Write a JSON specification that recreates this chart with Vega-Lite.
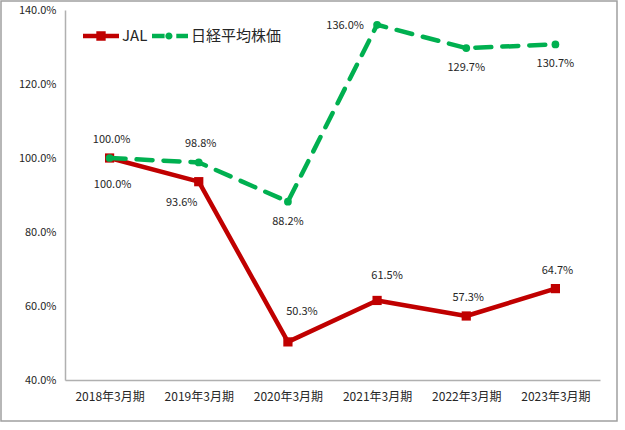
{
  "$schema": "https://vega.github.io/schema/vega-lite/v6.json",
  "width": 616,
  "height": 420,
  "autosize": "none",
  "padding": {"left": 1, "top": 1, "right": 8, "bottom": 9},
  "background": "white",
  "config": {
    "font": "Noto Sans CJK JP",
    "view": {"stroke": "#a0a0a0", "strokeWidth": 1.5}
  },
  "data": {
    "values": [
      {"period": "2018年3月期", "series": "JAL", "value": 100.0},
      {"period": "2019年3月期", "series": "JAL", "value": 93.6},
      {"period": "2020年3月期", "series": "JAL", "value": 50.3},
      {"period": "2021年3月期", "series": "JAL", "value": 61.5},
      {"period": "2022年3月期", "series": "JAL", "value": 57.3},
      {"period": "2023年3月期", "series": "JAL", "value": 64.7},
      {"period": "2018年3月期", "series": "日経平均株価", "value": 100.0},
      {"period": "2019年3月期", "series": "日経平均株価", "value": 98.8},
      {"period": "2020年3月期", "series": "日経平均株価", "value": 88.2},
      {"period": "2021年3月期", "series": "日経平均株価", "value": 136.0},
      {"period": "2022年3月期", "series": "日経平均株価", "value": 129.7},
      {"period": "2023年3月期", "series": "日経平均株価", "value": 130.7}
    ]
  },
  "transform": [
    {"calculate": "format(datum.value, '.1f') + '%'", "as": "label"}
  ],
  "encoding": {
    "x": {
      "field": "period",
      "type": "ordinal",
      "sort": null,
      "title": null,
      "scale": {"type": "point", "range": [64, 599], "padding": 0.5},
      "axis": {
        "offset": -41,
        "ticks": false,
        "grid": false,
        "labelAngle": 0,
        "labelFontSize": 12,
        "labelColor": "#262626",
        "labelPadding": 11,
        "domainColor": "#b0b0b0",
        "domainWidth": 1.5
      }
    },
    "y": {
      "field": "value",
      "type": "quantitative",
      "title": null,
      "scale": {"domain": [40, 140], "range": [379, 9], "nice": false, "zero": false},
      "axis": {
        "offset": -64,
        "values": [40, 60, 80, 100, 120, 140],
        "labelExpr": "format(datum.value, '.1f') + '%'",
        "ticks": false,
        "grid": false,
        "labelFontSize": 11,
        "labelColor": "#262626",
        "labelPadding": 9,
        "domainColor": "#b0b0b0",
        "domainWidth": 1.5
      }
    }
  },
  "layer": [
    {
      "transform": [{"filter": "datum.series == 'JAL'"}],
      "mark": {"type": "line", "strokeWidth": 4.5, "strokeJoin": "round"},
      "encoding": {
        "color": {
          "field": "series",
          "type": "nominal",
          "scale": {"domain": ["JAL", "日経平均株価"], "range": ["#C00000", "#00B050"]},
          "legend": {
            "orient": "none",
            "legendX": 82,
            "legendY": 17,
            "direction": "horizontal",
            "title": null,
            "symbolSize": 1296,
            "labelFontSize": 15,
            "labelColor": "#262626",
            "labelOffset": 3,
            "columnPadding": 4,
            "encode": {
              "symbols": {
                "update": {
                  "shape": {"signal": "datum.value == 'JAL' ? 'M-1,-0.12H1V0.12H-1Z M-0.26,-0.26H0.26V0.26H-0.26Z' : 'M-1,-0.12H-0.3V0.12H-1Z M0.35,-0.12H1V0.12H0.35Z M-0.26,0 A0.2,0.2 0 1,0 0.14,0 A0.2,0.2 0 1,0 -0.26,0Z'"},
                  "fill": {"signal": "datum.value == 'JAL' ? '#C00000' : '#00B050'"},
                  "stroke": {"value": "transparent"},
                  "strokeWidth": {"value": 0},
                  "opacity": {"value": 1}
                }
              }
            }
          }
        }
      }
    },
    {
      "transform": [{"filter": "datum.series == 'JAL'"}],
      "mark": {"type": "point", "shape": "square", "filled": true, "size": 85, "opacity": 1, "color": "#C00000"}
    },
    {
      "transform": [{"filter": "datum.series == '日経平均株価'"}],
      "mark": {"type": "line", "strokeWidth": 4.5, "strokeDash": [16, 11], "strokeCap": "round", "strokeJoin": "round"},
      "encoding": {
        "color": {"field": "series", "type": "nominal"}
      }
    },
    {
      "transform": [{"filter": "datum.series == '日経平均株価'"}],
      "mark": {"type": "point", "shape": "circle", "filled": true, "size": 60, "opacity": 1, "color": "#00B050"}
    },
    {
      "transform": [{"filter": "(datum.series == '日経平均株価' && indexof(['2018年3月期', '2019年3月期'], datum.period) >= 0) || (datum.series == 'JAL' && indexof(['2022年3月期', '2023年3月期'], datum.period) >= 0)"}],
      "mark": {"type": "text", "fontSize": 11, "color": "#262626", "dy": -18, "dx": 2},
      "encoding": {"text": {"field": "label", "type": "nominal"}}
    },
    {
      "transform": [{"filter": "datum.series == '日経平均株価' && indexof(['2020年3月期', '2022年3月期', '2023年3月期'], datum.period) >= 0"}],
      "mark": {"type": "text", "fontSize": 11, "color": "#262626", "dy": 20},
      "encoding": {"text": {"field": "label", "type": "nominal"}}
    },
    {
      "transform": [{"filter": "datum.series == 'JAL' && datum.period == '2018年3月期'"}],
      "mark": {"type": "text", "fontSize": 11, "color": "#262626", "dy": 27, "dx": 3},
      "encoding": {"text": {"field": "label", "type": "nominal"}}
    },
    {
      "transform": [{"filter": "datum.series == 'JAL' && datum.period == '2019年3月期'"}],
      "mark": {"type": "text", "fontSize": 11, "color": "#262626", "dy": 21, "dx": -17},
      "encoding": {"text": {"field": "label", "type": "nominal"}}
    },
    {
      "transform": [{"filter": "datum.series == 'JAL' && datum.period == '2020年3月期'"}],
      "mark": {"type": "text", "fontSize": 11, "color": "#262626", "dy": -30, "dx": 14},
      "encoding": {"text": {"field": "label", "type": "nominal"}}
    },
    {
      "transform": [{"filter": "datum.series == 'JAL' && datum.period == '2021年3月期'"}],
      "mark": {"type": "text", "fontSize": 11, "color": "#262626", "dy": -24, "dx": 10},
      "encoding": {"text": {"field": "label", "type": "nominal"}}
    },
    {
      "transform": [{"filter": "datum.series == '日経平均株価' && datum.period == '2021年3月期'"}],
      "mark": {"type": "text", "fontSize": 11, "color": "#262626", "dy": 1, "dx": -32},
      "encoding": {"text": {"field": "label", "type": "nominal"}}
    }
  ]
}
